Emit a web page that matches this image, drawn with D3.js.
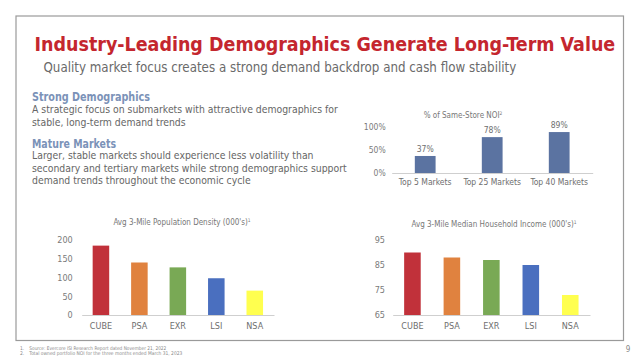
<!DOCTYPE html>
<html>
<head>
<meta charset="utf-8">
<script src="https://cdn.jsdelivr.net/npm/d3@7"></script>
<style>
  html, body { margin: 0; padding: 0; background: #fff; }
  svg { display: block; }
  text { font-family: "Liberation Sans Narrow", "DejaVu Sans Condensed", "Roboto", sans-serif; }
</style>
</head>
<body>
<svg id="chart" width="640" height="358"></svg>
<script>
// ---------- data ----------
const companies = ["CUBE", "PSA", "EXR", "LSI", "NSA"];
const densityValues = [185, 140, 127, 98, 65];
const incomeValues = [90, 88, 87, 85, 73];
const companyColors = ["#C1313A", "#E0823F", "#79A955", "#4A6FBF", "#FFFF4F"];
const densityTicks = [0, 50, 100, 150, 200];
const incomeTicks = [65, 75, 85, 95];

const noiCategories = ["Top 5 Markets", "Top 25 Markets", "Top 40 Markets"];
const noiValues = [37, 78, 89];
const noiTicks = [0, 50, 100];

const titleText = "Industry-Leading Demographics Generate Long-Term Value";
const subtitleText = "Quality market focus creates a strong demand backdrop and cash flow stability";
const headings = ["Strong Demographics", "Mature Markets"];
const bodyLines1 = ["A strategic focus on submarkets with attractive demographics for",
                    "stable, long-term demand trends"];
const bodyLines2 = ["Larger, stable markets should experience less volatility than",
                    "secondary and tertiary markets while strong demographics support",
                    "demand trends throughout the economic cycle"];
const footnotes = ["Source: Evercore ISI Research Report dated November 21, 2022",
                   "Total owned portfolio NOI for the three months ended March 31, 2023"];

// ---------- drawing ----------
const svg = d3.select("#chart");

// frame
svg.append("rect").attr("x", 16).attr("y", 16).attr("width", 607.5).attr("height", 324.5)
  .attr("fill", "none").attr("stroke", "#9a9a9a").attr("stroke-width", 1.2);

function fitSize(sel, target) {
  const w = sel.node().getComputedTextLength();
  const fs = +sel.attr("font-size");
  sel.attr("font-size", fs * target / w);
  return fs * target / w;
}

// title & subtitle
const tt = svg.append("text").attr("x", 34.5).attr("y", 50.5).text(titleText)
  .attr("fill", "#C4262E").attr("font-weight", "bold").attr("font-size", 20.5);
fitSize(tt, 581);
const st = svg.append("text").attr("x", 43.5).attr("y", 71.5).text(subtitleText)
  .attr("fill", "#6a6a6a").attr("font-size", 13.5);
fitSize(st, 473);

// headings
svg.append("text").attr("x", 32).attr("y", 101).text(headings[0])
  .attr("fill", "#7B92B8").attr("font-weight", "bold").attr("font-size", 11.5)
  .attr("textLength", 118).attr("lengthAdjust", "spacingAndGlyphs");
svg.append("text").attr("x", 32).attr("y", 147.5).text(headings[1])
  .attr("fill", "#7B92B8").attr("font-weight", "bold").attr("font-size", 11.5)
  .attr("textLength", 84).attr("lengthAdjust", "spacingAndGlyphs");

// body text
const probe = svg.append("text").attr("font-size", 12).text(bodyLines1[0]);
const bodySize = fitSize(probe, 306);
probe.remove();
[112.5, 125.5].forEach((y, i) => {
  svg.append("text").attr("x", 32).attr("y", y).text(bodyLines1[i])
    .attr("fill", "#666").attr("font-size", bodySize);
});
[159, 171.5, 184].forEach((y, i) => {
  svg.append("text").attr("x", 32).attr("y", y).text(bodyLines2[i])
    .attr("fill", "#666").attr("font-size", bodySize);
});

// generic bar chart
function barChart(opts) {
  const g = svg.append("g");
  const x = d3.scaleBand().domain(opts.cats).range(opts.xr)
    .paddingInner(opts.pad).paddingOuter(opts.pad / 2);
  const y = d3.scaleLinear().domain(opts.domain).range(opts.yr);

  // x axis (baseline)
  const xa = g.append("g").attr("transform", `translate(0,${opts.yr[0]})`)
    .call(d3.axisBottom(x).tickSize(0).tickPadding(opts.xPad));
  xa.select(".domain").attr("stroke", "#cfcfcf").attr("stroke-width", 1);
  xa.selectAll("text").attr("fill", "#6e6e6e").attr("font-size", opts.fs);

  // y axis labels
  const ya = g.append("g").attr("transform", `translate(${opts.xr[0]},0)`)
    .call(d3.axisLeft(y).tickValues(opts.ticks).tickSize(0).tickPadding(opts.yPad)
      .tickFormat(opts.fmt || d3.format("d")));
  ya.select(".domain").remove();
  ya.selectAll("text").attr("fill", "#7a7a7a").attr("font-size", opts.fs);
  svg.selectAll("g").attr("font-family", null);

  // bars
  g.selectAll("rect.bar").data(opts.vals).join("rect").attr("class", "bar")
    .attr("x", (d, i) => x(opts.cats[i]))
    .attr("width", x.bandwidth())
    .attr("y", d => y(d))
    .attr("height", d => y(opts.domain[0]) - y(d))
    .attr("fill", (d, i) => opts.colors[i]);

  if (opts.labels) {
    g.selectAll("text.val").data(opts.vals).join("text").attr("class", "val")
      .attr("x", (d, i) => x(opts.cats[i]) + x.bandwidth() / 2)
      .attr("y", d => y(d) - 4)
      .attr("text-anchor", "middle").attr("fill", "#6e6e6e").attr("font-size", opts.fs)
      .text(d => d + "%");
  }

  // title with superscript
  const t = g.append("text").attr("x", opts.tx).attr("y", opts.ty)
    .attr("text-anchor", "middle").attr("fill", "#777").attr("font-size", opts.tfs);
  t.append("tspan").text(opts.title);
  t.append("tspan").text(opts.sup).attr("font-size", opts.tfs * 0.6).attr("dy", -opts.tfs * 0.35);
}

barChart({
  cats: noiCategories, vals: noiValues, colors: noiValues.map(() => "#5B73A1"),
  xr: [391.7, 592.7], yr: [173, 127], domain: [0, 100], ticks: noiTicks, pad: 0.69,
  fmt: d => d + "%", xPad: 6, yPad: 6, fs: 8.5, labels: true,
  title: "% of Same-Store NOI", sup: "2", tx: 463, ty: 118, tfs: 8
});

barChart({
  cats: companies, vals: densityValues, colors: companyColors,
  xr: [81.7, 274], yr: [315, 240], domain: [0, 200], ticks: densityTicks, pad: 0.57,
  xPad: 7.5, yPad: 9, fs: 9,
  title: "Avg 3-Mile Population Density (000's)", sup: "1", tx: 182, ty: 224.5, tfs: 8
});

barChart({
  cats: companies, vals: incomeValues, colors: companyColors,
  xr: [392.7, 590], yr: [315, 240], domain: [65, 95], ticks: incomeTicks, pad: 0.58,
  xPad: 7.5, yPad: 7.7, fs: 9,
  title: "Avg 3-Mile Median Household Income (000's)", sup: "1", tx: 494, ty: 227, tfs: 8
});

// footnotes
footnotes.forEach((f, i) => {
  const y = 349.5 + i * 5;
  svg.append("text").attr("x", 20).attr("y", y).text((i + 1) + ".")
    .attr("fill", "#8a8a8a").attr("font-size", 5);
  svg.append("text").attr("x", 29.3).attr("y", y).text(f)
    .attr("fill", "#8a8a8a").attr("font-size", 5)
    .attr("textLength", i === 0 ? 137 : 153).attr("lengthAdjust", "spacingAndGlyphs");
});
svg.append("text").attr("x", 628).attr("y", 351.5).text("9")
  .attr("text-anchor", "middle").attr("fill", "#888").attr("font-size", 8);
</script>
</body>
</html>
